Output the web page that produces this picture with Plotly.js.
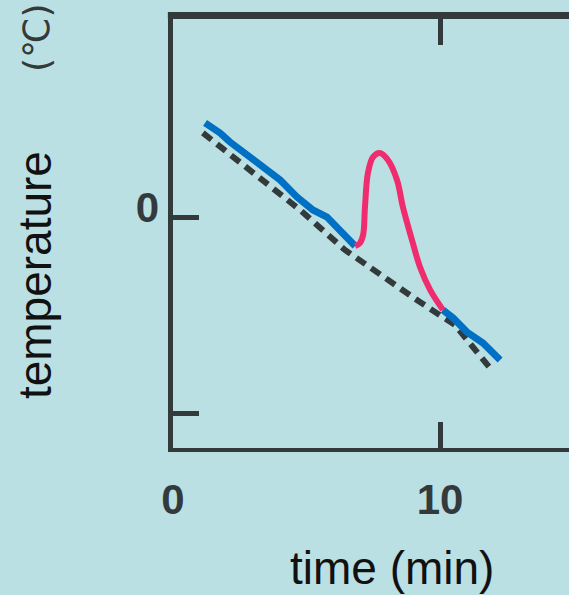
<!DOCTYPE html>
<html>
<head>
<meta charset="utf-8">
<script src="https://cdn.plot.ly/plotly-3.0.1.min.js"></script>
<style>
  html, body { margin: 0; padding: 0; background: #bbe0e3; overflow: hidden; }
  #chart { width: 569px; height: 595px; }
</style>
</head>
<body>
<div id="chart"></div>
<script>
// Measured temperature before reaction (blue, first part)
const blue1X = [1.20, 1.76, 2.13, 2.77, 3.52, 4.01, 4.64, 5.24, 5.77, 6.14, 6.63, 6.82];
const blue1Y = [4.80, 4.29, 3.83, 3.16, 2.40, 1.89, 1.02, 0.36, 0.00, -0.51, -1.17, -1.48];
// Temperature bump (pink)
const pinkX = [6.82, 7.00, 7.12, 7.19, 7.30, 7.49, 7.75, 8.05, 8.39, 8.61, 8.95, 9.25, 9.63, 10.11];
const pinkY = [-1.48, -1.33, -0.92, 0.51, 2.24, 3.06, 3.27, 2.91, 1.89, 0.51, -1.17, -2.55, -3.72, -4.74];
// Measured temperature after (blue, second part)
const blue2X = [10.11, 10.49, 11.01, 11.61, 12.25];
const blue2Y = [-4.74, -5.15, -5.87, -6.43, -7.30];
// Reference (dashed)
const dashX = [1.12, 2.88, 4.76, 6.44, 7.75, 9.25, 10.56, 11.31, 11.87];
const dashY = [4.29, 2.40, 0.36, -1.68, -2.96, -4.34, -5.51, -6.79, -7.70];
// Ticks
const xTickVals = [0, 10];
const xTickText = ['0', '10'];
const yTickVals = [-10, 0];
const yLabelVals = [0.5];   // label "0" sits slightly above its tick in the original
const yLabelText = ['0'];

const axisColor = '#333a3c';
const tickFont = {family: 'Liberation Sans, Arial, sans-serif', size: 42, color: axisColor, weight: 'bold'};
const yRange = [-(448-217)/19.6, (217-19)/19.6];

const traces = [
  {x: dashX, y: dashY, mode: 'lines', line: {color: axisColor, width: 6, dash: '11px,7px'}, hoverinfo: 'skip'},
  {x: blue1X, y: blue1Y, mode: 'lines', line: {color: '#0070c4', width: 7}, hoverinfo: 'skip'},
  {x: blue2X, y: blue2Y, mode: 'lines', line: {color: '#0070c4', width: 7}, hoverinfo: 'skip'},
  {x: pinkX, y: pinkY, mode: 'lines', line: {color: '#ef2d6e', width: 6, shape: 'spline', smoothing: 1}, hoverinfo: 'skip'},
  {x: [null], y: [null], yaxis: 'y2', mode: 'lines', hoverinfo: 'skip', showlegend: false}
];

const layout = {
  width: 569, height: 595,
  margin: {l: 173, r: 0, t: 19, b: 147, pad: 0},
  paper_bgcolor: '#bbe0e3', plot_bgcolor: '#bbe0e3',
  showlegend: false,
  xaxis: {
    range: [0, 396/26.7], showgrid: false, zeroline: false,
    showline: true, linecolor: axisColor, linewidth: 4, mirror: 'ticks',
    ticks: 'inside', ticklen: 26, tickwidth: 5, tickcolor: axisColor,
    tickvals: xTickVals, ticktext: xTickText, tickfont: tickFont,
    ticklabelstandoff: 12
  },
  yaxis: {
    range: yRange, showgrid: false, zeroline: false,
    showline: true, linecolor: axisColor, linewidth: 5,
    ticks: 'inside', ticklen: 26, tickwidth: 5, tickcolor: axisColor,
    tickvals: yTickVals, showticklabels: false
  },
  yaxis2: {
    overlaying: 'y', side: 'left', range: yRange,
    showgrid: false, zeroline: false, showline: false, ticks: '',
    tickvals: yLabelVals, ticktext: yLabelText, tickfont: tickFont,
    ticklabelstandoff: 13
  },
  shapes: [
    {type: 'line', xref: 'paper', yref: 'paper', x0: -0.013, x1: 1, y0: 1.0082, y1: 1.0082,
     line: {color: axisColor, width: 7}}
  ],
  annotations: [
    {text: 'time (min)', xref: 'paper', yref: 'paper', x: 0.553, y: -0.280,
     xanchor: 'center', yanchor: 'middle', showarrow: false,
     font: {family: 'Liberation Sans, Arial, sans-serif', size: 46, color: '#111111'}},
    {text: 'temperature', xref: 'paper', yref: 'paper', x: -0.3485, y: 0.403, textangle: -90,
     xanchor: 'center', yanchor: 'middle', showarrow: false,
     font: {family: 'Liberation Sans, Arial, sans-serif', size: 46, color: '#111111'}},
    {text: '(℃)', xref: 'paper', yref: 'paper', x: -0.343, y: 0.956, textangle: -90,
     xanchor: 'center', yanchor: 'middle', showarrow: false,
     font: {family: 'DejaVu Sans, sans-serif', size: 36, color: axisColor}}
  ]
};

Plotly.newPlot('chart', traces, layout, {displayModeBar: false, staticPlot: true});
</script>
</body>
</html>
